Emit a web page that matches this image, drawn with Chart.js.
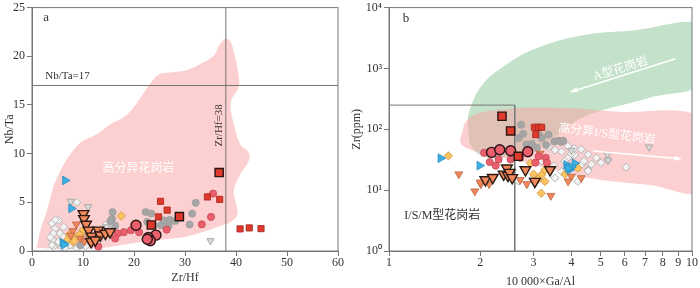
<!DOCTYPE html>
<html lang="zh">
<head>
<meta charset="UTF-8">
<title>Nb/Ta - Zr/Hf and Zr - Ga/Al</title>
<style>
  body { margin: 0; background: #fff; }
  #wrap { display: flex; width: 700px; height: 288px; }
</style>
</head>
<body>
<div id="wrap">
  <canvas id="chartA" width="350" height="288"></canvas>
  <canvas id="chartB" width="350" height="288"></canvas>
</div>
<script src="https://cdn.jsdelivr.net/npm/chart.js"></script>
<script>
// ---- panel a: Zr/Hf vs Nb/Ta ----
const zrHfTicks = [0, 10, 20, 30, 40, 50, 60];
const nbTaTicks = [0, 5, 10, 15, 20, 25];

const whiteDiamondsA = [[8.8,5.0],[5.2,3.15],[3.9,2.85],[4.5,2.3],[4.2,1.8],[5.5,1.8],[4.1,1.1],[5.2,0.95],[6.2,1.45],[6.8,0.95],[7.5,0.6],[5.8,0.44],[4.2,0.44],[3.9,0.6],[8.8,0.27],[9.4,0.6],[14.4,2.64],[14.8,2.3],[16,2.6],[6.2,2.47],[4.6,3.2],[7.2,1.2],[10.5,0.5],[3.6,1.4],[6.5,0.3]];
const grayTriA = [[11.0,4.54],[7.6,5.1],[35,1.05],[14.6,2.47]];
const grayCirclesA = [[15.8,4.0],[15.7,3.3],[15.4,3.1],[16.3,2.6],[22.3,4.0],[23.4,3.85],[22.6,3.0],[23.9,2.64],[25.3,2.64],[25.8,3.15],[27,3.2],[28.1,3.08],[30.9,2.72],[31.4,3.83],[32.1,4.95],[26.8,2.6],[9.5,0.6],[11,1.2]];
const yellowDiamondsA = [[17.5,3.6],[9.6,1.8],[8.8,1.45],[8.0,0.95],[7.3,1.66],[8.3,1.05],[9.3,1.66],[7.0,1.2],[10.1,2.2]];
const blueTriA = [[6.5,7.25],[7.7,4.37],[6.0,0.85],[6.3,0.65]];
const orangeTriA = [[8.7,2.74],[8.0,2.06],[9.5,1.3],[10.3,1.0],[7.6,1.6],[11.2,1.5]];
const pinkCirclesA = [[35.5,5.9],[35.1,3.5],[33.3,2.74],[26.4,2.2],[21,1.93],[19.4,2.13],[18,1.93],[16.8,1.8],[16.3,1.29],[13,0.44]];
const redSquaresA = [[25.2,5.1],[26.5,4.2],[24.8,3.5],[34.4,5.55],[36.8,5.3],[40.8,2.27],[42.6,2.37],[44.9,2.3]];
const orangeTriBigA = [[10.1,3.83],[10.2,3.32],[10.6,2.74],[11.1,2.13],[11.7,1.52],[11.6,0.95],[13,2.13],[13.4,1.63],[14.4,1.8],[15.3,1.96],[12.4,1.12]];
const pinkCirclesBigA = [[20.4,2.64],[24.3,1.63],[22.8,1.39],[23.2,1.05],[22.6,1.2]];
const redSquaresBigA = [[36.7,8.06],[28.9,3.53],[23.4,2.67]];

const fieldA = [[0.9,0.3],[1.05,0.64],[1.6,2.06],[2.9,4.1],[4.9,7.5],[9.0,10.9],[12.7,12],[15.3,13],[18.6,14],[21.2,15.7],[23.5,17.4],[24.8,18.1],[26.5,18.3],[30.4,18.6],[33,19.2],[35.7,20.1],[36.7,21.1],[38,21.8],[38.9,21.5],[39.6,20.4],[40.6,17.7],[40.4,16.7],[39,15.3],[39.6,13],[40.9,10.9],[42.4,10.2],[42.6,9.4],[40.9,7.9],[39.6,6.3],[40,4.9],[40.3,3.8],[39,3],[37,2.6],[34.4,2.1],[30.4,1.5],[27.8,1.3],[21.9,0.95],[18.6,0.7],[13,0.3],[6,0.2],[0.9,0.3]];
const nbTaLine = [[0,17],[60,17]];
const zrHfLine = [[38,0],[38,25]];

// ---- panel b: 10000*Ga/Al vs Zr ----
const gaAlTicks = [1, 2, 3, 4, 5, 6, 7, 8, 9, 10];
const gaAlLabels = ['1', '2', '3', '4', '5', '6', '7', '8', '9', '10'];
const zrTicks = [1, 10, 100, 1000, 10000];
const zrLabels = ['10⁰', '10¹', '10²', '10³', '10⁴'];

const whiteDiamondsB = [[6.06,23.8],[5.28,31.3],[4.83,34],[4.54,21.6],[4.31,26],[3.71,42.8],[3.53,45.6],[3.36,51.5],[4.1,37.8],[4.2,13.9],[2.68,13.9],[3.53,15.8],[3.71,20.2],[3.9,34],[3.9,52.8],[4.08,48.5],[4.31,46.7],[4.54,38.6],[5.01,28.2],[4.66,26.6],[4.54,20.7],[3.2,30],[3.0,16],[3.5,25],[4.0,40],[4.4,30],[3.8,30]];
const grayTriB = [[7.22,51],[5.25,38.6],[5.28,31],[4.0,45]];
const grayCirclesB = [[2.73,119],[2.68,72],[2.77,84],[2.84,56],[3.12,82],[3.19,72],[3.36,82],[3.51,63],[3.62,65],[3.70,62],[3.76,65],[2.96,57.5],[3.08,49.6],[3.3,55]];
const yellowDiamondsB = [[1.57,36.6],[3.18,8.9],[3.27,13.9],[3.19,17.9],[3.0,18.3],[3.27,21.6],[2.93,27.7],[3.81,18.3],[4.2,23],[3.1,15]];
const blueTriB = [[1.48,33.5],[1.99,25.3],[3.85,26],[3.95,21.6],[4.1,27.7],[4.0,24],[3.9,23]];
const orangeTriB = [[1.70,18.3],[1.92,9.6],[2.01,12.6],[2.14,12.6],[2.85,12.6],[3.42,8.1],[3.15,40],[4.31,15.8],[4.0,16.7],[2.71,14.8],[2.0,13.5],[3.9,14]];
const pinkCirclesB = [[2.06,41],[2.25,25.3],[2.30,32],[2.52,32],[2.71,34],[3.12,36],[3.29,34],[3.04,28.3],[3.32,28.3],[2.15,29]];
const redSquaresB = [[3.02,108],[3.11,108],[3.19,108],[3.05,82]];
const orangeTriBigB = [[2.08,14.8],[2.2,16.1],[2.39,18.3],[2.45,23],[2.47,17.4],[2.5,19.5],[2.55,16],[2.82,21.6],[3.03,13.9],[3.4,21.6]];
const pinkCirclesBigB = [[2.18,41.8],[2.32,46],[2.52,44.4],[2.87,42.8]];
const redSquaresBigB = [[2.36,164],[2.52,94],[2.67,36]];

const fieldGreenB = [[1.82,105],[1.84,196],[2.03,533],[2.42,1127],[3.04,2100],[4.31,3470],[6.29,4170],[11,4900],[11,620],[7.13,323],[4.31,153],[3.36,63.8],[2.61,39.2],[2.14,34.1],[1.88,49.7],[1.82,105]];
const fieldPinkB = [[1.71,63.8],[1.84,153],[2.31,209],[3.36,228],[5.55,196],[11,140],[11,10],[7.13,12.3],[5.55,13.9],[4.31,16.8],[3.36,23],[2.61,31.3],[2.03,40.3],[1.77,51.5],[1.71,63.8]];
const boxLine = [[1,250],[2.6,250],[2.6,1]];

// ---- helpers ----
const serif = "'Liberation Serif', 'Noto Sans CJK SC', serif";
const gray = '#777';
const pts = a => a.map(([x, y]) => ({x, y}));

function marks(data, style, bg, border, r, bw, rot, order) {
  return { data: pts(data), pointStyle: style, backgroundColor: bg, borderColor: border,
           pointRadius: r, borderWidth: bw, rotation: rot, order };
}
function field(data, color, order) {
  return { data: pts(data), showLine: true, fill: 'shape', tension: 0.4, pointRadius: 0,
           borderWidth: 0, borderColor: 'rgba(0,0,0,0)', backgroundColor: color, order };
}
function refLine(data) {
  return { data: pts(data), showLine: true, fill: false, pointRadius: 0, borderWidth: 1,
           borderColor: gray, order: 50 };
}
function pointSets(s) {
  return [
    marks(s.white, 'rectRot', '#f2f2f2', '#a8a8a8', 4, 0.8, 0, 12),
    marks(s.grayTri, 'triangle', '#d9d9d9', '#9a9a9a', 4.2, 0.8, 180, 11),
    marks(s.grayCirc, 'circle', '#a5a5a5', '#999', 3.6, 0.6, 0, 10),
    marks(s.yellow, 'rectRot', '#fcc35e', '#c8964a', 4.2, 0.8, 0, 9),
    marks(s.blue, 'triangle', '#3bb1e3', '#2a8cbf', 5, 0.8, 90, 8),
    marks(s.orange, 'triangle', '#f3885c', '#b8663f', 4.6, 0.8, 180, 7),
    marks(s.pink, 'circle', '#ea5f6c', '#c24a55', 3.6, 0.8, 0, 6),
    marks(s.red, 'rect', '#e03a2d', '#a4261d', 4.4, 0.8, 0, 5),
    marks(s.orangeBig, 'triangle', '#f3885c', '#2a1a12', 6.2, 1.4, 180, 3),
    marks(s.pinkBig, 'circle', '#ea5f6c', '#2a1416', 5, 1.4, 0, 2),
    marks(s.redBig, 'rect', '#e03a2d', '#2a1410', 5.8, 1.4, 0, 1)
  ];
}

function axis(type, min, max, ticks, labels, title, size, titlePad, titleLH) {
  return {
    type, min, max,
    afterBuildTicks: s => { s.ticks = ticks.map(v => ({value: v})); },
    afterFit: s => { if (s.isHorizontal()) s.height = size; else s.width = size; },
    ticks: { callback: (v, i) => labels[i], color: '#333', autoSkip: false, maxRotation: 0,
             padding: 2, font: {family: serif, size: 12, lineHeight: 0.8} },
    grid: { drawOnChartArea: false, drawTicks: true, tickLength: 5, color: gray },
    border: { color: gray, width: 1 },
    title: { display: true, text: title, color: '#333', padding: titlePad,
             font: {family: serif, size: 12, lineHeight: titleLH} }
  };
}

// frame around plot + text notes + arrows, all positioned through the scales
const decor = {
  id: 'decor',
  afterDatasetsDraw(chart, args, opts) {
    const {ctx, chartArea: a, scales: {x, y}} = chart;
    ctx.save();
    for (const ar of opts.arrows || []) {
      const x0 = x.getPixelForValue(ar.from[0]), y0 = y.getPixelForValue(ar.from[1]);
      const x1 = x.getPixelForValue(ar.to[0]), y1 = y.getPixelForValue(ar.to[1]);
      const ang = Math.atan2(y1 - y0, x1 - x0);
      ctx.strokeStyle = '#fff'; ctx.fillStyle = '#fff'; ctx.lineWidth = 1.5;
      ctx.beginPath(); ctx.moveTo(x0, y0); ctx.lineTo(x1, y1); ctx.stroke();
      ctx.beginPath();
      ctx.moveTo(x1 + 2 * Math.cos(ang), y1 + 2 * Math.sin(ang));
      ctx.lineTo(x1 - 6 * Math.cos(ang) + 2.5 * Math.sin(ang), y1 - 6 * Math.sin(ang) - 2.5 * Math.cos(ang));
      ctx.lineTo(x1 - 6 * Math.cos(ang) - 2.5 * Math.sin(ang), y1 - 6 * Math.sin(ang) + 2.5 * Math.cos(ang));
      ctx.closePath(); ctx.fill();
    }
    for (const n of opts.notes || []) {
      ctx.save();
      ctx.translate(x.getPixelForValue(n.x), y.getPixelForValue(n.y));
      ctx.rotate((n.rot || 0) * Math.PI / 180);
      ctx.font = (n.size || 12) + 'px ' + serif;
      ctx.fillStyle = n.color || '#333';
      ctx.textAlign = n.align || 'center';
      ctx.textBaseline = 'middle';
      ctx.fillText(n.text, 0, 0);
      ctx.restore();
    }
    ctx.strokeStyle = gray; ctx.lineWidth = 1;
    ctx.strokeRect(a.left, a.top, a.right - a.left, a.bottom - a.top);
    ctx.restore();
  }
};

function makeChart(id, datasets, scales, padding, decorOpts) {
  return new Chart(document.getElementById(id), {
    type: 'scatter',
    data: { datasets },
    options: {
      responsive: false, animation: false, events: [],
      layout: { padding },
      scales,
      plugins: { legend: { display: false }, tooltip: { enabled: false }, decor: decorOpts }
    },
    plugins: [decor]
  });
}

makeChart('chartA', [
  field(fieldA, 'rgba(249,161,161,0.5)', 100),
  refLine(nbTaLine), refLine(zrHfLine),
  ...pointSets({ white: whiteDiamondsA, grayTri: grayTriA, grayCirc: grayCirclesA, yellow: yellowDiamondsA,
    blue: blueTriA, orange: orangeTriA, pink: pinkCirclesA, red: redSquaresA,
    orangeBig: orangeTriBigA, pinkBig: pinkCirclesBigA, redBig: redSquaresBigA })
], {
  x: axis('linear', 0, 60, zrHfTicks, zrHfTicks.map(String), 'Zr/Hf', 37, {top: 2, bottom: 3}, 1.2),
  y: axis('linear', 0, 25, nbTaTicks, nbTaTicks.map(String), 'Nb/Ta', 32, {top: 3, bottom: 0}, 1.2)
}, {top: 5, right: 12, left: 0, bottom: 0}, {
  notes: [
    {x: 2.2, y: 24.0, text: 'a', size: 13, align: 'left'},
    {x: 2.6, y: 18.0, text: 'Nb/Ta=17', size: 11, align: 'left'},
    {x: 36.7, y: 12.9, text: 'Zr/Hf=38', size: 11, rot: -90},
    {x: 20.9, y: 8.4, text: '高分异花岗岩', size: 12, color: '#fff'}
  ]
});

makeChart('chartB', [
  field(fieldGreenB, '#c4e1c9', 101),
  field(fieldPinkB, 'rgba(249,161,161,0.5)', 100),
  refLine(boxLine),
  ...pointSets({ white: whiteDiamondsB, grayTri: grayTriB, grayCirc: grayCirclesB, yellow: yellowDiamondsB,
    blue: blueTriB, orange: orangeTriB, pink: pinkCirclesB, red: redSquaresB,
    orangeBig: orangeTriBigB, pinkBig: pinkCirclesBigB, redBig: redSquaresBigB })
], {
  x: axis('logarithmic', 1, 10, gaAlTicks, gaAlLabels, '10 000×Ga/Al', 37, {top: 2, bottom: 0}, 1.0),
  y: axis('logarithmic', 1, 10000, zrTicks, zrLabels, 'Zr(ppm)', 39, {top: 0, bottom: 0}, 1.2)
}, {top: 4, right: 5, left: 0, bottom: 0}, {
  arrows: [
    {from: [8.82, 1443], to: [4.0, 415]},
    {from: [4.71, 43.9], to: [9.14, 32.9]}
  ],
  notes: [
    {x: 1.11, y: 6650, text: 'b', size: 13, align: 'left'},
    {x: 5.82, y: 980, text: 'A型花岗岩', size: 12, color: '#fff', rot: -17},
    {x: 5.24, y: 83, text: '高分异I/S型花岗岩', size: 12, color: '#fff', rot: 7},
    {x: 1.50, y: 3.85, text: 'I/S/M型花岗岩', size: 12, color: '#333'}
  ]
});
</script>
</body>
</html>
